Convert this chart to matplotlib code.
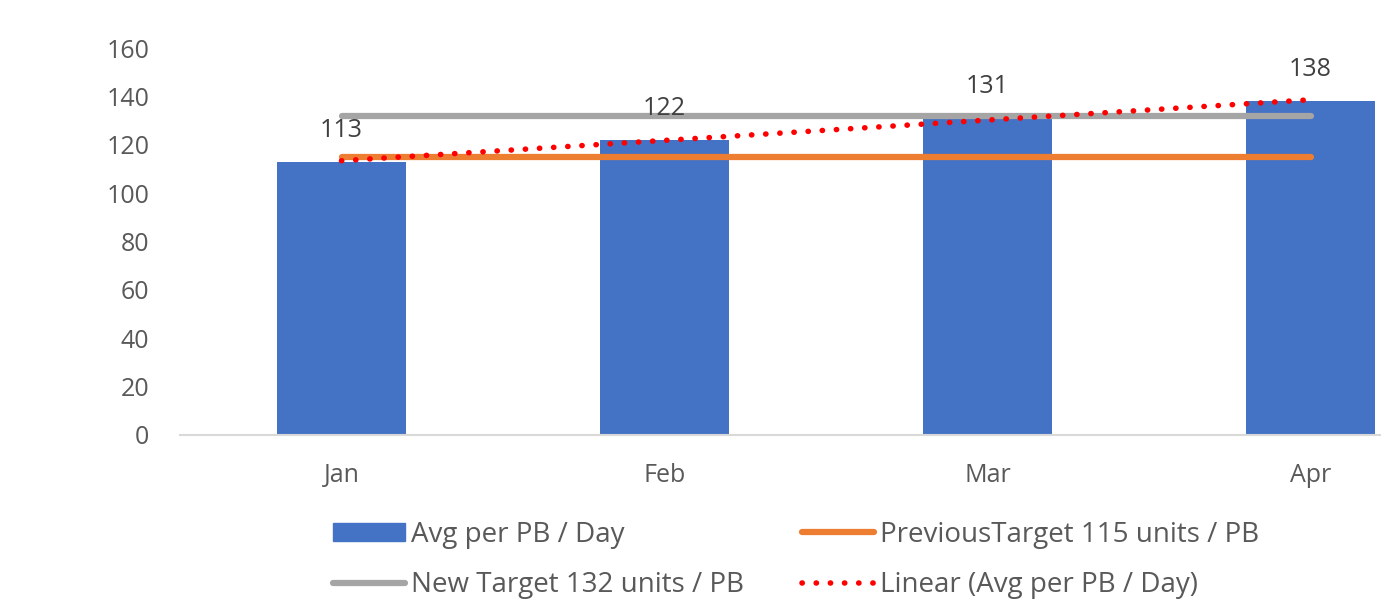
import numpy as np
import matplotlib.pyplot as plt
from matplotlib.patches import Patch
from matplotlib.lines import Line2D

plt.rcParams['font.family'] = ['Open Sans', 'DejaVu Sans']

months = ['Jan', 'Feb', 'Mar', 'Apr']
avg_per_pb = [113, 122, 131, 138]
previous_target = 115
new_target = 132
y_ticks = [0, 20, 40, 60, 80, 100, 120, 140, 160]

BLUE = '#4472C4'
ORANGE = '#ED7D31'
GREY = '#A5A5A5'
RED = '#FF0000'
TEXT = '#595959'

fig = plt.figure(figsize=(13.81, 6.01), dpi=100)
ax = fig.add_axes([180 / 1381, 166 / 601, 1292 / 1381, 387 / 601])

x = np.arange(len(months))
ax.bar(x, avg_per_pb, width=0.4, color=BLUE, zorder=2)

ax.plot([x[0], x[-1]], [previous_target] * 2, color=ORANGE, lw=4.5,
        solid_capstyle='round', zorder=3)
ax.plot([x[0], x[-1]], [new_target] * 2, color=GREY, lw=4.5,
        solid_capstyle='round', zorder=3)

# linear trendline fitted to the monthly averages
slope, intercept = np.polyfit(x, avg_per_pb, 1)
ax.plot(x[[0, -1]], slope * x[[0, -1]] + intercept, color=RED, lw=4,
        linestyle=(0, (0.05, 2.5)), dash_capstyle='round', zorder=4)

for xi, v in zip(x, avg_per_pb):
    ax.annotate(str(v), (xi, v), xytext=(0, 22.5), textcoords='offset points',
                ha='center', va='center', fontsize=18, color='#404040')

ax.set_xlim(-0.5, 3.5)
ax.set_ylim(0, 160)
ax.set_yticks(y_ticks)
ax.set_xticks(x)
ax.set_xticklabels(months)
ax.tick_params(axis='y', length=0, pad=22, labelsize=18, labelcolor=TEXT)
ax.tick_params(axis='x', length=0, pad=20, labelsize=18, labelcolor=TEXT)
for s in ['top', 'right', 'left']:
    ax.spines[s].set_visible(False)
ax.spines['bottom'].set_color('#D9D9D9')
ax.spines['bottom'].set_linewidth(1.5)

handles = [
    Patch(facecolor=BLUE, edgecolor=BLUE),
    Line2D([], [], color=GREY, lw=4.5, solid_capstyle='round'),
    Line2D([], [], color=ORANGE, lw=4.5, solid_capstyle='round'),
    Line2D([], [], color=RED, lw=4, linestyle=(0, (0.05, 2.5)),
           dash_capstyle='round'),
]
labels = ['Avg per PB / Day', 'New Target 132 units / PB',
          'PreviousTarget 115 units / PB', 'Linear (Avg per PB / Day)']
leg = fig.legend(handles, labels, ncol=2, loc='center left',
                 bbox_to_anchor=(333 / 1381, 1 - 560 / 601), frameon=False,
                 fontsize=20, handlelength=2.6, handleheight=0.6,
                 handletextpad=0.2, columnspacing=2.1, labelspacing=0.82,
                 borderpad=0, borderaxespad=0)
for t in leg.get_texts():
    t.set_color(TEXT)

# chart heading sits at the very top edge of the canvas
fig.text(850 / 1381, 1 + 8.5 / 601, 'Average Units per PB per Day',
         ha='center', va='baseline', fontsize=24, color=TEXT)

fig.savefig('out.png', dpi=100)
